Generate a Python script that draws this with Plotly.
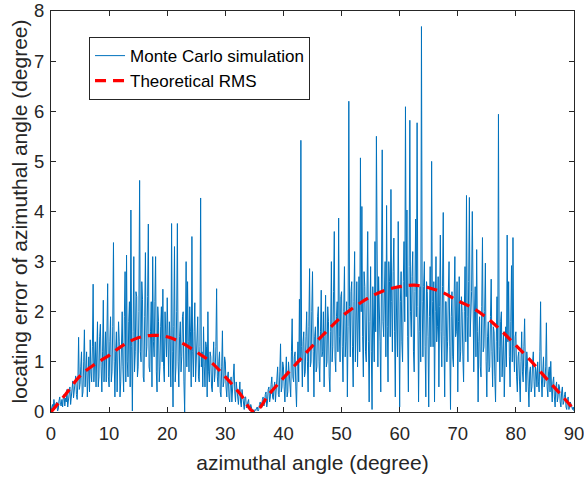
import plotly.graph_objects as go

# Monte Carlo simulation samples (0.125 degree spacing, 0..90)
mc_step = 0.125
mc_error = [
    # 0-5
    0.02,0.1, 0.15,0.05, 0.25,0.12, 0.08,0.18, 0.2,0.02, 0.05,0.22, 0.3,0.15, 0.12,0.25, 0.1,0.3, 0.35,0.12,
    0.28,0.2, 0.45,0.1, 0.2,0.38, 0.5,0.15, 0.3,0.45, 0.62,0.28, 0.4,0.55, 0.72,0.35, 0.25,0.6, 1.49,0.45,
    # 5-10
    0.55,0.9, 1.2,0.3, 0.4,1.0, 1.64,0.5, 0.85,1.2, 0.3,0.7, 1.1,0.4, 1.44,0.8, 0.6,1.3, 2.55,0.6,
    0.9,1.4, 0.5,1.1, 1.8,0.5, 0.7,1.5, 1.75,0.9, 0.4,1.2, 2.23,0.6, 1.0,1.6, 0.6,1.3, 2.56,0.7,
    # 10-15
    0.5,1.4, 1.9,0.6, 0.8,1.7, 3.38,1.0, 0.3,1.2, 1.6,0.4, 0.9,1.8, 1.4,0.3, 0.6,1.5, 2.0,0.9,
    0.4,1.9, 2.8,0.6, 3.13,1.0, 0.7,1.8, 2.2,0.5, 4.03,1.3, 0.02,1.6, 3.1,0.8, 1.2,2.4, 2.3,0.7,
    # 15-20
    0.9,2.0, 4.62,1.2, 1.0,2.6, 2.25,0.7, 0.6,1.9, 3.18,1.1, 1.3,2.3, 3.75,0.9, 0.8,1.6, 2.2,0.5,
    3.1,1.4, 1.1,2.2, 3.1,0.8, 0.4,2.1, 1.8,0.6, 0.9,1.7, 2.1,1.0, 2.45,0.9, 0.6,2.0, 1.5,1.1,
    # 20-25
    2.28,1.0, 0.7,1.8, 1.4,0.5, 3.76,1.2, 0.1,1.7, 3.3,0.6, 0.9,2.0, 3.76,1.0, 0.5,1.5, 1.8,0.8,
    1.1,1.9, 2.0,0.6, 0.0,1.3, 3.0,0.9, 2.6,1.4, 0.8,2.1, 1.6,0.5, 3.5,1.2, 0.7,1.6, 2.18,0.6,
    # 25-30
    1.0,1.5, 1.9,0.7, 0.6,1.3, 4.27,0.9, 1.2,0.5, 1.7,0.9, 0.5,1.4, 1.3,0.3, 2.0,0.8, 0.6,1.2,
    1.1,0.5, 0.4,1.0, 1.4,0.6, 0.8,1.3, 2.46,0.7, 0.5,1.0, 1.2,0.4, 0.3,0.9, 1.62,0.5, 0.6,1.1,
    # 30-35
    1.0,0.5, 0.3,0.7, 0.8,0.3, 0.2,0.6, 0.7,0.2, 0.4,0.8, 0.96,0.4, 0.2,0.6, 0.5,0.3, 0.15,0.4,
    0.6,0.2, 0.1,0.45, 0.35,0.15, 0.05,0.3, 0.3,0.08, 0.1,0.2, 0.25,0.05, 0.02,0.15, 0.1,0.03, 0.05,0.02,
    # 35-40
    0.0,0.05, 0.03,0.08, 0.1,0.02, 0.05,0.15, 0.2,0.1, 0.08,0.25, 0.3,0.12, 0.15,0.35, 0.4,0.1, 0.2,0.45,
    0.5,0.2, 0.3,0.55, 0.7,0.3, 0.25,0.5, 0.6,0.2, 0.4,0.75, 0.9,0.35, 0.3,0.8, 1.36,0.4, 0.5,1.0,
    # 40-45
    0.9,0.5, 0.2,0.7, 1.1,0.3, 0.4,1.0, 0.8,0.4, 0.3,1.2, 1.86,0.7, 0.6,1.1, 1.2,0.5, 0.1,0.9,
    1.4,0.6, 2.25,1.0, 5.42,1.3, 0.5,1.4, 1.6,0.7, 0.8,1.5, 2.0,1.0, 0.4,1.7, 2.86,0.9, 1.0,2.0,
    # 45-50
    2.8,1.2, 0.3,1.5, 1.7,0.8, 0.9,1.9, 2.1,1.0, 0.6,1.6, 2.43,1.1, 1.2,2.0, 0.5,1.5, 2.33,0.9,
    1.0,2.1, 1.8,0.7, 0.4,1.6, 3.0,1.0, 1.3,2.4, 3.6,1.1, 0.8,1.9, 2.2,1.2, 3.87,1.5, 1.0,2.3,
    # 50-55
    2.4,1.3, 0.6,2.0, 2.9,1.1, 1.4,2.2, 0.3,1.7, 6.2,2.1, 1.1,2.4, 2.6,1.3, 0.5,2.2, 3.2,1.0,
    1.8,2.6, 0.9,1.9, 2.7,1.2, 5.07,2.0, 4.1,1.5, 0.7,2.8, 2.5,1.2, 1.0,2.3, 3.6,1.4, 0.2,1.8,
    # 55-60
    2.9,1.2, 0.05,2.5, 1.8,1.0, 3.4,1.6, 5.5,2.0, 0.9,2.7, 2.2,1.4, 0.4,2.9, 5.23,1.8, 1.5,2.4,
    3.0,1.1, 4.12,1.7, 0.6,3.0, 2.6,1.5, 4.44,2.2, 1.2,2.8, 3.47,1.6, 0.3,2.5, 2.0,1.1, 3.8,1.3,
    # 60-65
    0.1,2.2, 2.8,1.4, 1.0,2.6, 3.4,1.8, 6.09,2.3, 4.03,1.5, 0.4,2.9, 5.82,2.0, 1.5,2.7, 3.2,1.2,
    0.8,2.4, 3.85,1.9, 5.77,2.1, 0.2,1.6, 2.5,1.0, 7.69,2.2, 1.1,2.5, 3.0,1.3, 0.3,2.6, 2.4,1.5,
    # 65-70
    0.1,1.9, 2.9,1.3, 5.0,2.2, 1.3,2.6, 0.2,2.0, 3.1,1.4, 1.7,2.7, 0.5,2.1, 3.53,1.6, 0.9,2.5,
    3.98,1.5, 0.3,2.2, 2.2,1.0, 1.4,2.4, 3.0,1.3, 0.05,1.9, 2.4,1.1, 0.9,2.3, 3.1,1.5, 1.6,2.6,
    # 70-75
    0.4,1.8, 2.7,1.0, 1.2,2.3, 2.0,1.1, 0.6,2.0, 2.9,1.4, 4.32,1.9, 1.0,2.6, 4.28,1.5, 2.1,2.4,
    4.0,1.3, 0.8,2.0, 2.5,1.1, 3.24,1.6, 0.2,1.4, 1.9,0.9, 0.7,2.1, 3.48,1.2, 1.3,2.0, 2.97,1.0,
    # 75-80
    0.3,1.5, 1.8,0.8, 0.9,1.9, 2.65,1.2, 0.5,1.7, 1.6,0.7, 0.2,1.4, 2.3,1.0, 5.94,1.3, 0.6,1.8,
    2.0,0.7, 1.0,1.6, 0.3,1.2, 1.7,0.9, 3.53,1.4, 2.6,1.1, 0.5,1.8, 2.92,1.0, 3.48,1.3, 0.8,1.5,
    # 80-85
    1.6,0.7, 0.4,1.1, 1.2,0.6, 0.2,1.0, 1.6,0.8, 0.6,1.3, 1.86,0.9, 0.4,1.2, 1.0,0.5, 0.1,0.8,
    0.9,0.4, 0.5,1.0, 1.2,0.6, 0.3,0.9, 0.8,0.5, 1.0,0.6, 0.4,1.2, 2.2,0.7, 0.3,0.8, 1.1,0.5,
    # 85-90
    0.6,0.9, 1.78,0.5, 0.3,0.8, 0.9,0.4, 1.01,0.5, 0.2,0.6, 0.7,0.3, 0.1,0.5, 0.6,0.2, 0.3,0.55,
    0.5,0.2, 0.1,0.4, 0.5,0.15, 0.2,0.35, 0.4,0.1, 0.05,0.25, 0.3,0.05, 0.1,0.2, 0.15,0.08, 0.05,0.1,
    0.02,
]
mc_angle = [round(i * mc_step, 3) for i in range(len(mc_error))]

# Theoretical RMS curve
rms_angle = [0, 2.5, 5, 7.5, 10, 12.5, 15, 17.5, 20, 22.5, 25, 27.5, 30, 32.5, 35,
             37.5, 40, 42.5, 45, 47.5, 50, 52.5, 55, 57.5, 60, 62.5, 65, 67.5, 70,
             72.5, 75, 77.5, 80, 82.5, 85, 87.5, 90]
rms_error = [0.0, 0.35, 0.72, 0.95, 1.13, 1.34, 1.48, 1.53, 1.5, 1.38, 1.2, 1.0, 0.7, 0.37, 0.0,
             0.35, 0.68, 1.0, 1.32, 1.62, 1.9, 2.12, 2.3, 2.43, 2.5, 2.53, 2.48, 2.38, 2.22,
             2.08, 1.88, 1.62, 1.33, 1.03, 0.7, 0.38, 0.05]

x_ticks = [0, 10, 20, 30, 40, 50, 60, 70, 80, 90]
y_ticks = [0, 1, 2, 3, 4, 5, 6, 7, 8]

FONT = "Liberation Sans, Arial, Helvetica, sans-serif"
INK = "#262626"

fig = go.Figure()
fig.add_trace(go.Scatter(
    x=mc_angle, y=mc_error, mode="lines", name="Monte Carlo simulation",
    line=dict(color="#0072BD", width=1),
))
fig.add_trace(go.Scatter(
    x=rms_angle, y=rms_error, mode="lines", name="Theoretical RMS",
    line=dict(color="#FF0000", width=3.2, dash="11px,7px", shape="spline"),
))

axis_common = dict(
    showline=True, linecolor=INK, linewidth=1, mirror="ticks",
    ticks="inside", ticklen=5, tickcolor=INK, tickwidth=1,
    showgrid=False, zeroline=False, automargin=False,
    ticklabeloverflow="allow",
    tickfont=dict(family=FONT, size=18.5, color=INK),
)

fig.update_layout(
    width=584, height=480,
    margin=dict(l=51, r=10, t=11, b=68),
    paper_bgcolor="white", plot_bgcolor="white",
    font=dict(family=FONT, color=INK),
    xaxis=dict(range=[0, 90], tickvals=x_ticks, ticklabelstandoff=5,
               title=dict(text="azimuthal angle (degree)", font=dict(family=FONT, size=21, color=INK), standoff=12),
               **axis_common),
    yaxis=dict(range=[0, 8], tickvals=y_ticks, ticklabelstandoff=2,
               title=dict(text="locating error of azimuthal angle (degree)", font=dict(family=FONT, size=21, color=INK), standoff=0),
               **axis_common),
    legend=dict(
        x=0.0727, y=0.935, xanchor="left", yanchor="top",
        bgcolor="white", bordercolor=INK, borderwidth=1,
        font=dict(family=FONT, size=17, color="black"),
        tracegroupgap=0, itemwidth=30,
    ),
    showlegend=True,
)

fig.write_html("out.html", config={"displayModeBar": False},
               post_script="document.body.style.margin='0';")
